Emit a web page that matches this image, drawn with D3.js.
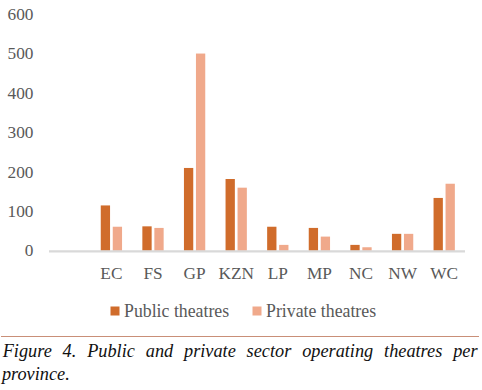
<!DOCTYPE html>
<html><head><meta charset="utf-8">
<script src="https://cdn.jsdelivr.net/npm/d3@7"></script>
<style>html,body{margin:0;padding:0;background:#fff;}svg{display:block;}</style>
</head><body>
<script>
const categories = ["", "EC", "FS", "GP", "KZN", "LP", "MP", "NC", "NW", "WC"];
const seriesNames = ["Public theatres", "Private theatres"];
const publicValues = [null, 115, 62, 210, 182, 61, 58, 15, 43, 134];
const privateValues = [null, 61, 58, 500, 160, 15, 36, 9, 43, 170];
const yTicks = [0, 100, 200, 300, 400, 500, 600];
const colors = ["#d06c2b", "#f0a98b"];
const captionLines = ["Figure 4. Public and private sector operating theatres per", "province."];

const FONT = "Liberation Serif";
const W = 482, H = 390;
const svg = d3.select("body").append("svg").attr("width", W).attr("height", H);

const y = d3.scaleLinear().domain([0, 600]).range([250.8, 14.1]);
const x = d3.scaleBand().domain(categories).range([49, 465]).padding(0);
const bw = x.bandwidth();
const x1 = d3.scaleBand().domain(seriesNames).range([bw/2 - 10.65, bw/2 + 10.65]).paddingInner(0.225);

const data = categories.map((c, i) => ({cat: c, vals: [publicValues[i], privateValues[i]]}));

// y labels
svg.append("g").selectAll("text").data(yTicks).join("text")
  .attr("x", 33.5).attr("y", d => y(d) + 5.6)
  .attr("text-anchor", "end")
  .style("font-family", FONT).style("font-size", "17.3px").style("fill", "#595959")
  .text(d => d);

// bars
const g = svg.append("g");
data.forEach(d => {
  d.vals.forEach((v, j) => {
    if (v == null) return;
    g.append("rect")
      .attr("x", x(d.cat) + x1(seriesNames[j]))
      .attr("y", y(v))
      .attr("width", x1.bandwidth())
      .attr("height", y(0) - y(v))
      .attr("fill", colors[j]);
  });
});

// baseline
svg.append("line").attr("x1", 49).attr("x2", 465).attr("y1", y(0) + 0.6).attr("y2", y(0) + 0.6)
  .attr("stroke", "#d9d9d9").attr("stroke-width", 2.4);

// x labels
svg.append("g").selectAll("text").data(categories.filter(c => c)).join("text")
  .attr("x", d => x(d) + bw/2).attr("y", 279.3)
  .attr("text-anchor", "middle")
  .style("font-family", FONT).style("font-size", "17.3px").style("fill", "#595959")
  .text(d => d);

// legend
const legendX = [110.5, 252.5];
seriesNames.forEach((s, j) => {
  svg.append("rect").attr("x", legendX[j]).attr("y", 306.5).attr("width", 9).attr("height", 9).attr("fill", colors[j]);
  svg.append("text").attr("x", legendX[j] + 13.5).attr("y", 316.5)
    .style("font-family", FONT).style("font-size", "17.8px").style("fill", "#595959").text(s);
});

// separator
svg.append("line").attr("x1", 1).attr("x2", 479).attr("y1", 336.5).attr("y2", 336.5)
  .attr("stroke", "#c98f78").attr("stroke-width", 1);

// caption (justified first line)
const capFont = "18.3px";
const left = 2.7, right = 477.5;
const line1Words = captionLines[0].split(" ");
const widths = line1Words.map(w => {
  const t = svg.append("text").style("font-family", FONT).style("font-style", "italic").style("font-size", capFont).text(w);
  const wd = t.node().getComputedTextLength(); t.remove(); return wd;
});
const total = d3.sum(widths);
const gap = (right - left - total) / (line1Words.length - 1);
let cx = left;
line1Words.forEach((w, i) => {
  svg.append("text").attr("x", cx).attr("y", 356.7)
    .style("font-family", FONT).style("font-style", "italic").style("font-size", capFont).style("fill", "#111").text(w);
  cx += widths[i] + gap;
});
svg.append("text").attr("x", left - 0.8).attr("y", 379.5)
  .style("font-family", FONT).style("font-style", "italic").style("font-size", capFont).style("fill", "#111").text(captionLines[1]);
</script>
</body></html>
